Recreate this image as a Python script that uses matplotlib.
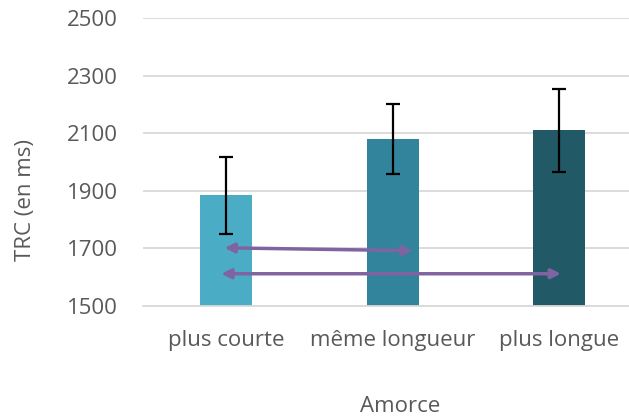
import matplotlib
matplotlib.use("Agg")
import matplotlib.pyplot as plt

# categories and values
categories = ["plus courte", "même longueur", "plus longue"]
means = [1884, 2080, 2111]
errors = [134, 122, 144]
bar_colors = ["#4BACC6", "#31849B", "#215967"]
y_ticks = [1500, 1700, 1900, 2100, 2300, 2500]

# comparison arrows: (x_start, y_start, x_end, y_end) in data units
arrows = [
    (-0.01, 1702, 1.12, 1692),
    (-0.03, 1612, 2.01, 1612),
]

plt.rcParams["font.family"] = ["Open Sans", "DejaVu Sans"]
text_color = "#595959"
fs = 16

fig = plt.figure(figsize=(6.29, 4.18), dpi=100)
ax = fig.add_axes([143 / 629, 1 - 306 / 418, (629 - 143) / 629, 288 / 418])

x = range(len(categories))
ax.bar(x, means, width=0.31, color=bar_colors, zorder=2)
ax.errorbar(x, means, yerr=errors, fmt="none", ecolor="black",
            elinewidth=1.6, capsize=5, capthick=1.6, zorder=3)

for x0, y0, x1, y1 in arrows:
    ax.annotate("", xy=(x1, y1), xytext=(x0, y0),
                arrowprops=dict(arrowstyle="<|-|>", color="#8064A2",
                                lw=2.5, mutation_scale=14,
                                shrinkA=0, shrinkB=0),
                zorder=4)

ax.set_ylim(1500, 2500)
ax.set_xlim(-0.5, -0.5 + (629 - 143) / 166.5)
ax.set_yticks(y_ticks)
ax.set_xticks(list(x))
ax.set_xticklabels(categories)
ax.yaxis.grid(True, color="#d9d9d9", linewidth=1.3, zorder=0)
ax.set_axisbelow(True)

for side in ["top", "right", "left"]:
    ax.spines[side].set_visible(False)
ax.spines["bottom"].set_color("#d9d9d9")
ax.spines["bottom"].set_linewidth(1.3)

ax.tick_params(axis="both", length=0, labelsize=fs, colors=text_color)
ax.tick_params(axis="y", pad=18)
ax.tick_params(axis="x", pad=17)

ax.set_ylabel("TRC (en ms)", fontsize=fs, color=text_color)
ax.yaxis.set_label_coords(-(143 - 36) / (629 - 143), (306 - 200) / 288)
ax.set_xlabel("Amorce", fontsize=fs, color=text_color)
ax.xaxis.set_label_coords((400 - 143) / (629 - 143), -(396 - 306) / 288)

fig.savefig("out.png", dpi=100)
